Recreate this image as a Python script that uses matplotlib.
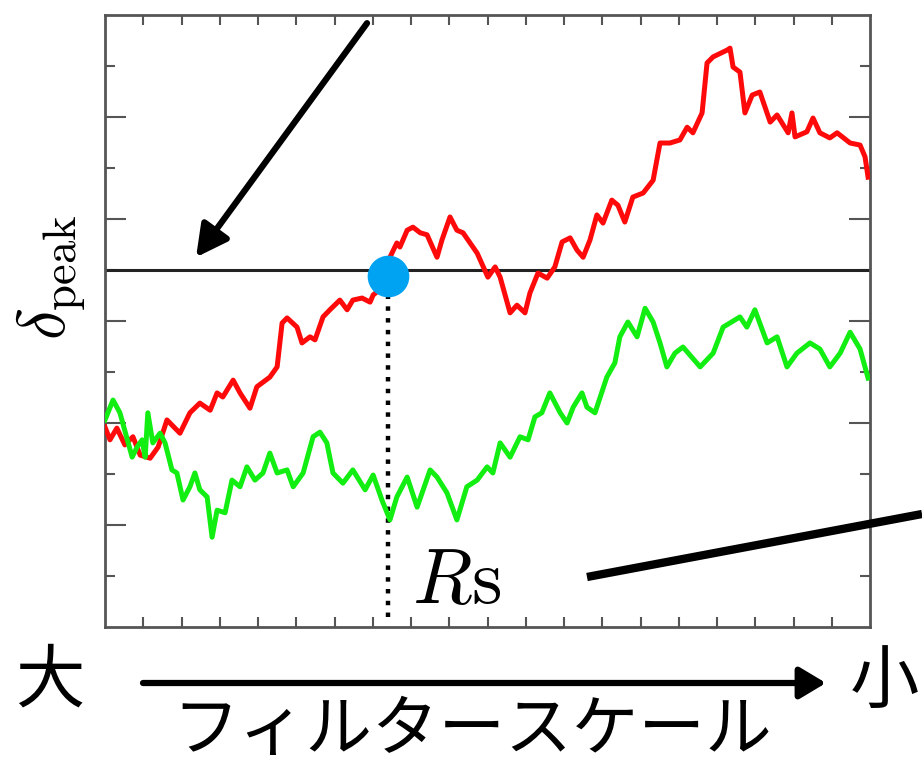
import numpy as np
import matplotlib.pyplot as plt
from matplotlib.lines import Line2D
from matplotlib.patches import FancyArrowPatch

plt.rcParams['mathtext.fontset'] = 'cm'

# peak height traced along the filter scale (large -> small)
red_x = [0, 0.13, 0.31, 0.52, 0.73, 0.92, 1.18, 1.39, 1.62, 1.96, 2.22, 2.48, 2.75, 2.93,
         3.08, 3.35, 3.53, 3.79, 3.97, 4.31, 4.50, 4.63, 4.76, 5.02, 5.15, 5.36, 5.49, 5.70,
         5.88, 6.14, 6.33, 6.48, 6.72, 6.93, 7.01, 7.27, 7.45, 7.63, 7.71, 7.90, 8.05, 8.24,
         8.42, 8.68, 8.81, 9.02, 9.20, 9.36, 9.73, 10.01, 10.20, 10.33, 10.59, 10.77, 10.98,
         11.11, 11.32, 11.56, 11.76, 11.95, 12.16, 12.34, 12.50, 12.68, 12.86, 13.02, 13.25,
         13.41, 13.59, 13.80, 14.07, 14.33, 14.51, 14.77, 15.03, 15.22, 15.37, 15.61, 15.74,
         15.90, 16.26, 16.34, 16.42, 16.60, 16.73, 16.92, 17.12, 17.39, 17.57, 17.86, 17.96,
         18.04, 18.35, 18.51, 18.69, 18.95, 19.14, 19.48, 19.74, 19.87, 19.95]
red_y = [3.92, 3.67, 3.90, 3.57, 3.73, 3.37, 3.31, 3.53, 4.06, 3.80, 4.20, 4.39, 4.25, 4.59,
         4.51, 4.84, 4.59, 4.29, 4.71, 4.90, 5.10, 5.96, 6.06, 5.88, 5.57, 5.69, 5.63, 6.08,
         6.22, 6.41, 6.22, 6.41, 6.45, 6.37, 6.51, 6.67, 7.25, 7.53, 7.45, 7.78, 7.84, 7.73,
         7.69, 7.25, 7.59, 8.04, 7.78, 7.73, 7.33, 6.86, 7.06, 6.86, 6.16, 6.31, 6.16,
         6.55, 6.94, 6.84, 7.06, 7.55, 7.63, 7.39, 7.25, 7.59, 8.08, 7.92, 8.37,
         8.27, 7.94, 8.43, 8.51, 8.76, 9.49, 9.49, 9.55, 9.80, 9.69, 10.08, 11.06,
         11.18, 11.31, 11.35, 10.98, 10.88, 10.08, 10.43, 10.49, 9.90, 10.04, 9.69, 10.08,
         9.61, 9.71, 9.98, 9.69, 9.59, 9.69, 9.49, 9.45, 9.22, 8.82]

green_x = [0, 0.21, 0.39, 0.71, 0.84, 0.97, 1.05, 1.12, 1.25, 1.44, 1.57, 1.75, 1.88, 2.04,
           2.22, 2.35, 2.48, 2.67, 2.80, 2.93, 3.14, 3.32, 3.53, 3.71, 3.92, 4.13, 4.31, 4.50,
           4.76, 4.92, 5.18, 5.44, 5.62, 5.80, 5.96, 6.22, 6.48, 6.80, 7.01, 7.24, 7.45, 7.63,
           7.90, 8.16, 8.50, 8.68, 8.94, 9.20, 9.46, 9.73, 9.99, 10.14, 10.33, 10.59, 10.85,
           11.06, 11.24, 11.42, 11.63, 11.90, 12.08, 12.24, 12.47, 12.60, 12.81, 13.12, 13.33,
           13.46, 13.67, 13.91, 14.12, 14.33, 14.51, 14.69, 14.90, 15.11, 15.56, 15.90, 16.16,
           16.60, 16.78, 16.99, 17.31, 17.57, 17.83, 18.09, 18.43, 18.69, 18.95, 19.22, 19.48,
           19.74, 19.95]
green_y = [4.06, 4.45, 4.20, 3.33, 3.53, 3.67, 3.33, 4.20, 3.61, 3.80, 3.61, 3.08, 3.02, 2.49,
           2.75, 3.02, 2.69, 2.55, 1.76, 2.29, 2.24, 2.88, 2.75, 3.14, 2.88, 3.02, 3.41, 3.02,
           3.08, 2.75, 3.02, 3.73, 3.82, 3.61, 3.02, 2.82, 3.08, 2.69, 2.98, 2.49, 2.10, 2.55,
           2.94, 2.35, 3.08, 2.94, 2.63, 2.10, 2.75, 2.88, 3.14, 3.02, 3.61, 3.33, 3.73,
           3.67, 4.12, 4.20, 4.59, 4.20, 4.00, 4.31, 4.59, 4.31, 4.20, 4.90, 5.18,
           5.69, 5.98, 5.69, 6.25, 5.98, 5.57, 5.10, 5.37, 5.49, 5.10, 5.37, 5.88,
           6.08, 5.88, 6.22, 5.57, 5.69, 5.10, 5.37, 5.57, 5.45, 5.10, 5.37, 5.78,
           5.45, 4.88]

threshold = 7.0
rs_x, rs_y = 7.40, 6.88

fig = plt.figure(figsize=(9.22, 7.69), dpi=100)
ax = fig.add_axes([105 / 922, 142 / 769, 765 / 922, 612 / 769])

ax.plot(red_x, red_y, color='#ff0a0a', lw=3.6, solid_joinstyle='round', zorder=3)
ax.plot(green_x, green_y, color='#12ee12', lw=3.6, solid_joinstyle='round', zorder=3)
ax.axhline(threshold, color='#222222', lw=2.2, zorder=2)
ax.vlines(rs_x, 0.2, rs_y, colors='black', linestyles=':', lw=3.2, zorder=2)
ax.plot([rs_x], [rs_y], 'o', ms=30, color='#00a2f2', mec='none', zorder=5)

ax.text(8.03, 0.47, r'$R\mathrm{s}$', fontsize=56, ha='left', va='baseline')

ax.annotate('', xy=(2.38, 7.25), xytext=(6.85, 11.84),
            arrowprops=dict(arrowstyle='-|>,head_length=1.9,head_width=1.0',
                            color='black', lw=4.5, shrinkA=0, shrinkB=0))

ax.set_xlim(0, 20)
ax.set_ylim(0, 12)
ax.set_xticks(np.arange(1, 20))
ax.set_yticks(np.arange(2, 12, 2))
ax.set_yticks(np.arange(1, 12, 2), minor=True)
ax.tick_params(which='both', direction='in', top=True, right=True,
               labelleft=False, labelbottom=False, color='#555555', width=1.5)
ax.tick_params(axis='x', length=7)
ax.tick_params(axis='y', which='major', length=15)
ax.tick_params(axis='y', which='minor', length=7)
for s in ax.spines.values():
    s.set_color('#555555')
    s.set_linewidth(2.0)

fig.text(0.056, 0.64, r'$\delta_{\rm peak}$', fontsize=48, rotation=90,
         ha='center', va='center')

# thick pointer line running off the right edge
fig.add_artist(Line2D([587 / 922, 1.0], [1 - 577 / 769, 1 - 514 / 769],
                      transform=fig.transFigure, color='black', lw=6,
                      solid_capstyle='butt'))

# filter scale axis underneath
jp = ['Noto Sans CJK JP', 'DejaVu Sans']
fig.text(50 / 922, 1 - 682 / 769, '大', fontsize=50, family=jp, ha='center', va='center')
fig.text(884 / 922, 1 - 682 / 769, '小', fontsize=50, family=jp, ha='center', va='center')
fig.add_artist(FancyArrowPatch((143 / 922, 1 - 683 / 769), (826 / 922, 1 - 683 / 769),
                               transform=fig.transFigure, mutation_scale=16,
                               arrowstyle='-|>,head_length=1.0,head_width=0.6',
                               color='black', lw=4.5, shrinkA=0, shrinkB=0))
fig.text(472 / 922, 1 - 731 / 769, 'フィルタースケール', fontsize=48, family=jp,
         ha='center', va='center')

fig.savefig('out.png', dpi=100)
